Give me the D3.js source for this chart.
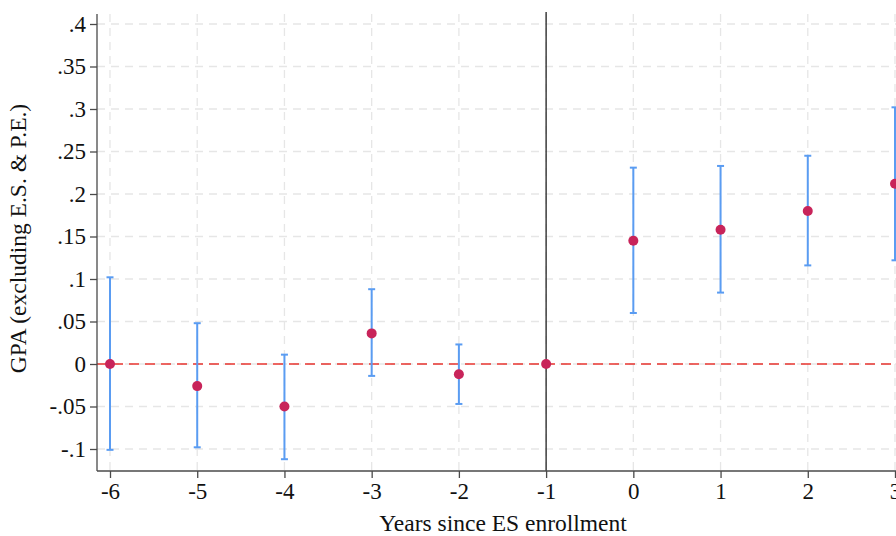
<!DOCTYPE html>
<html><head><meta charset="utf-8">
<script src="https://cdn.jsdelivr.net/npm/d3@7"></script>
<style>html,body{margin:0;padding:0;background:#fff;overflow:hidden}</style>
</head><body><svg id="c" width="896" height="536"></svg>
<script>
const years = [-6,-5,-4,-3,-2,-1,0,1,2,3];
const estimates = [0,-0.026,-0.050,0.036,-0.012,0,0.145,0.158,0.180,0.212];
const ciLower = [-0.101,-0.098,-0.112,-0.014,-0.047,null,0.060,0.084,0.116,0.122];
const ciUpper = [0.102,0.048,0.011,0.088,0.023,null,0.231,0.233,0.245,0.302];
const yTicks = [-0.1,-0.05,0,0.05,0.1,0.15,0.2,0.25,0.3,0.35,0.4];
const yTickLabels = ["-.1","-.05","0",".05",".1",".15",".2",".25",".3",".35",".4"];
const xTicks = [-6,-5,-4,-3,-2,-1,0,1,2,3];
const xTickLabels = ["-6","-5","-4","-3","-2","-1","0","1","2","3"];
const eventYear = -1;

const svg = d3.select("#c");
const L = 97, T = 14, B = 471;
const x = d3.scaleLinear().domain([-6,3]).range([110,895]);
const y = d3.scaleLinear().domain([-0.1,0.4]).range([449,24]);
const xMax = 960;
const font = "'Liberation Serif','Times New Roman',serif";

// gridlines
const grid = svg.append("g").attr("stroke","#e6e6e6").attr("stroke-width",1.3).attr("stroke-dasharray","8,6");
grid.selectAll(".h").data(yTicks).join("line")
  .attr("x1",L).attr("x2",xMax).attr("y1",d=>y(d)).attr("y2",d=>y(d));
grid.selectAll(".v").data(xTicks).join("line")
  .attr("x1",d=>x(d)).attr("x2",d=>x(d)).attr("y1",T).attr("y2",B);

// zero reference line
svg.append("line").attr("x1",L).attr("x2",xMax).attr("y1",y(0)).attr("y2",y(0))
  .attr("stroke","#e8352f").attr("stroke-width",1.7).attr("stroke-dasharray","10,6");

// event line
svg.append("line").attr("x1",x(eventYear)).attr("x2",x(eventYear)).attr("y1",12).attr("y2",B)
  .attr("stroke","#222").attr("stroke-width",1.3);

// axes
const yAxis = d3.axisLeft(y).tickValues(yTicks).tickFormat((d,i)=>yTickLabels[i]).tickSize(7).tickPadding(4);
const gy = svg.append("g").attr("transform",`translate(${L},0)`).call(yAxis);
gy.select(".domain").attr("d",`M0,${T}V${B}`);
const xAxis = d3.axisBottom(x).tickValues(xTicks).tickFormat((d,i)=>xTickLabels[i]).tickSize(7).tickPadding(5);
const gx = svg.append("g").attr("transform",`translate(0,${B})`).call(xAxis);
gx.select(".domain").attr("d",`M${L},0H${xMax}`);
[gx,gy].forEach(g=>{
  g.selectAll(".domain,line").attr("stroke","#4a4a4a").attr("stroke-width",1.3);
  g.selectAll("text").attr("font-family",font).attr("font-size",23).attr("fill","#111");
});

// error bars
const ci = years.map((d,i)=>({yr:d,lo:ciLower[i],hi:ciUpper[i]})).filter(d=>d.lo!==null);
const eb = svg.append("g").attr("stroke","#5a9cf2").attr("stroke-width",2);
eb.selectAll(".s").data(ci).join("line")
  .attr("x1",d=>x(d.yr)).attr("x2",d=>x(d.yr)).attr("y1",d=>y(d.lo)).attr("y2",d=>y(d.hi));
eb.selectAll(".t").data(ci).join("line")
  .attr("x1",d=>x(d.yr)-3.5).attr("x2",d=>x(d.yr)+3.5).attr("y1",d=>y(d.hi)).attr("y2",d=>y(d.hi));
eb.selectAll(".b").data(ci).join("line")
  .attr("x1",d=>x(d.yr)-3.5).attr("x2",d=>x(d.yr)+3.5).attr("y1",d=>y(d.lo)).attr("y2",d=>y(d.lo));

// points
svg.append("g").selectAll("circle").data(years.map((d,i)=>({yr:d,v:estimates[i]}))).join("circle")
  .attr("cx",d=>x(d.yr)).attr("cy",d=>y(d.v)).attr("r",5).attr("fill","#c8245a");

// labels
svg.append("text").attr("x",503).attr("y",531).attr("text-anchor","middle")
  .attr("font-family",font).attr("font-size",23.5).attr("fill","#111").text("Years since ES enrollment");
svg.append("text").attr("transform",`translate(26,238.5) rotate(-90)`).attr("text-anchor","middle")
  .attr("font-family",font).attr("font-size",23.5).attr("fill","#111").text("GPA (excluding E.S. & P.E.)");
</script></body></html>
